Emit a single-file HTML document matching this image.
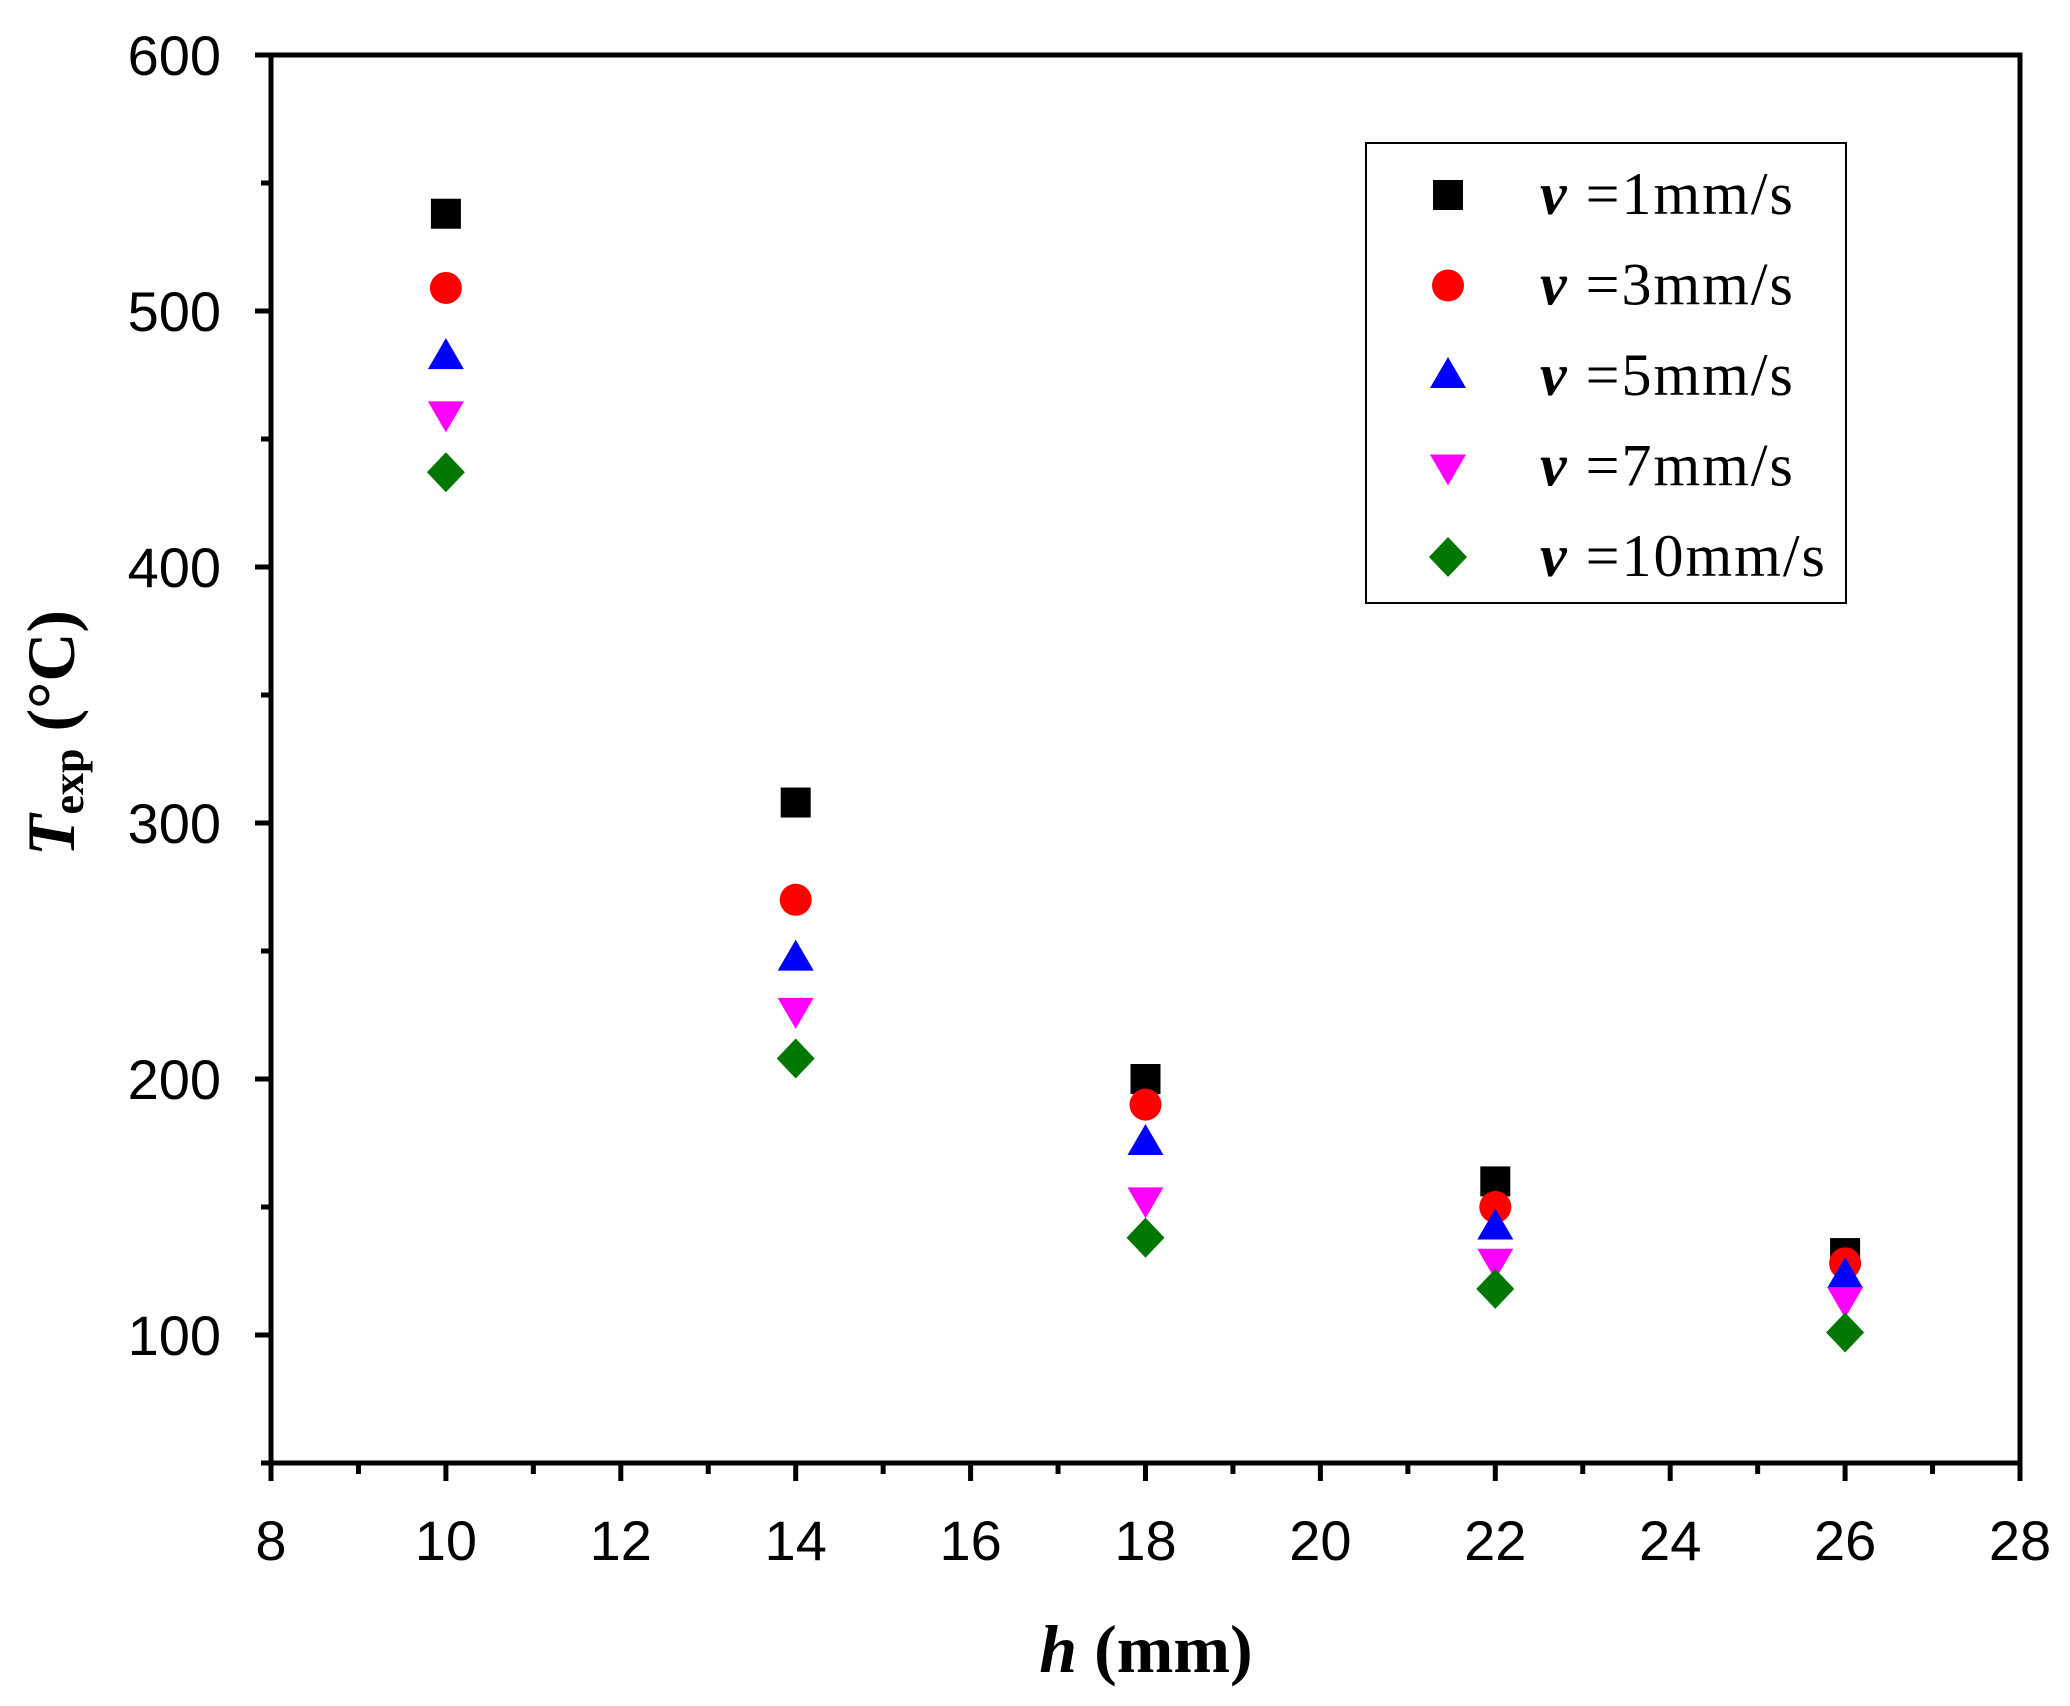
<!DOCTYPE html>
<html><head><meta charset="utf-8"><style>body{margin:0;background:#fff}svg{display:block}</style></head>
<body>
<svg id="chart" width="2070" height="1706" xmlns="http://www.w3.org/2000/svg"></svg>
<script>
const categories = [10, 14, 18, 22, 26];
const seriesNames = ["1mm/s", "3mm/s", "5mm/s", "7mm/s", "10mm/s"];
const v1 = [538, 308, 200, 160, 132];
const v3 = [509, 270, 190, 150, 128];
const v5 = [482, 247, 175, 142, 123];
const v7 = [460, 227, 153, 129, 114];
const v10 = [437, 208, 138, 118, 101];
const xTicks = [8, 10, 12, 14, 16, 18, 20, 22, 24, 26, 28];
const yTicks = [100, 200, 300, 400, 500, 600];

const svg = document.getElementById('chart');
const NS = 'http://www.w3.org/2000/svg';
const L = 271, R = 2020, T = 55, B = 1463;
const xMin = 8, xMax = 28, yMin = 50, yMax = 600;
function xs(v){return L + (v - xMin) / (xMax - xMin) * (R - L);}
function ys(v){return B - (v - yMin) / (yMax - yMin) * (B - T);}
function mk(tag, attrs, parent){const e=document.createElementNS(NS,tag);for(const k in attrs)e.setAttribute(k,attrs[k]);(parent||svg).appendChild(e);return e;}

const frame = mk('rect',{x:L,y:T,width:R-L,height:B-T,fill:'none',stroke:'#000','stroke-width':5});



for (let v = 50; v <= 600; v += 50) {
  const major = v % 100 === 0;
  const t = mk('line',{x1:L-(major?16:10),x2:L,y1:ys(v),y2:ys(v),stroke:'#000','stroke-width':5});
  
  
}
yTicks.forEach(v=>{
  const t = mk('text',{x:221,y:ys(v)+20,'text-anchor':'end','font-family':'Liberation Sans, sans-serif','font-size':56});
  t.textContent = v;
  
  
});
for (let v = 8; v <= 28; v += 1) {
  const major = v % 2 === 0;
  const t = mk('line',{x1:xs(v),x2:xs(v),y1:B,y2:B+(major?18:11),stroke:'#000','stroke-width':5});
  
  
}
xTicks.forEach(v=>{
  const t = mk('text',{x:xs(v),y:1560,'text-anchor':'middle','font-family':'Liberation Sans, sans-serif','font-size':56});
  t.textContent = v;
  
  
});

const xt = mk('text',{x:1146,y:1672,'text-anchor':'middle','font-family':'Liberation Serif, serif','font-size':68,'font-weight':'bold'});
xt.innerHTML = '<tspan font-style="italic">h</tspan> (mm)';


const yt = mk('text',{transform:'translate(74,733) rotate(-90)','text-anchor':'middle','font-family':'Liberation Serif, serif','font-size':68,'font-weight':'bold'});
yt.innerHTML = '<tspan font-style="italic">T</tspan><tspan font-size="44" dy="9">exp</tspan><tspan dy="-9"> (°C)</tspan>';



const styles = [
  {shape:'square',color:'#000000'},
  {shape:'circle',color:'#ff0000'},
  {shape:'up',color:'#0000ff'},
  {shape:'down',color:'#ff00ff'},
  {shape:'diamond',color:'#007700'}
];
function marker(shape,color,cx,cy){
  const s=15;
  if(shape==='square') return mk('rect',{x:cx-s,y:cy-s,width:2*s,height:2*s,fill:color});
  if(shape==='circle') return mk('circle',{cx:cx,cy:cy,r:s+1,fill:color});
  if(shape==='up') return mk('polygon',{points:`${cx},${cy-19} ${cx-18},${cy+12} ${cx+18},${cy+12}`,fill:color});
  if(shape==='down') return mk('polygon',{points:`${cx},${cy+19} ${cx-18},${cy-12} ${cx+18},${cy-12}`,fill:color});
  return mk('polygon',{points:`${cx},${cy-20} ${cx+19},${cy} ${cx},${cy+20} ${cx-19},${cy}`,fill:color});
}
const allSeries = [v1, v3, v5, v7, v10];
allSeries.forEach((arr, si) => {
  arr.forEach((val, i) => {
    const m = marker(styles[si].shape, styles[si].color, xs(categories[i]), ys(val));
    
    
  });
});

const lg = mk('rect',{x:1366,y:143,width:480,height:460,fill:'#fff',stroke:'#000','stroke-width':2});


seriesNames.forEach((n, si) => {
  const cy = 195 + si * 90.5;
  const m = marker(styles[si].shape, styles[si].color, 1448, cy);
  
  
  const t = mk('text',{x:1540,y:cy+19,'font-family':'Liberation Serif, serif','font-size':60,'letter-spacing':2});
  t.innerHTML = '<tspan font-weight="bold" font-style="italic">v</tspan> =' + n;
  
  
});
</script>
</body></html>
